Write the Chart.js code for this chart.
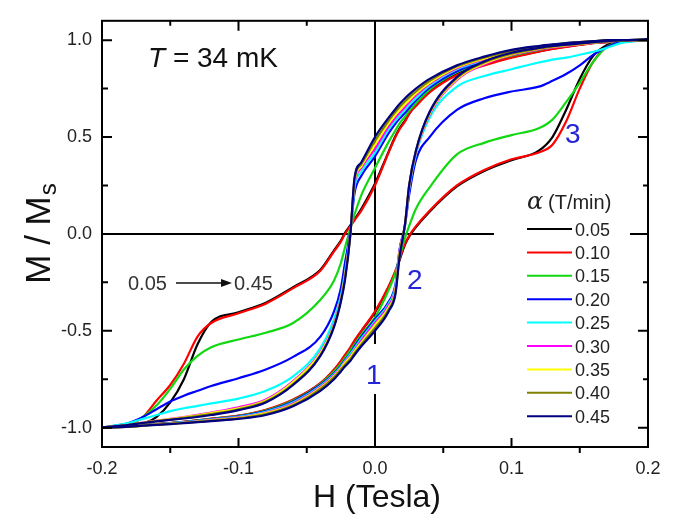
<!DOCTYPE html>
<html>
<head>
<meta charset="utf-8">
<script src="https://cdn.jsdelivr.net/npm/chart.js@4.4.1/dist/chart.umd.min.js"></script>
<style>
  body { margin: 0; background: #fff; }
  canvas { display: block; }
</style>
</head>
<body>
<canvas id="loopChart" width="679" height="516"></canvas>
<script>
// field grid (Tesla), shared by every branch
const fieldH = [-0.2, -0.18, -0.17, -0.16, -0.15, -0.14, -0.13, -0.12, -0.1, -0.08, -0.06, -0.04, -0.03, -0.025, -0.022, -0.018, -0.015, -0.01,
  0, 0.01, 0.015, 0.018, 0.022, 0.025, 0.03, 0.04, 0.06, 0.08, 0.1, 0.12, 0.13, 0.14, 0.15, 0.16, 0.17, 0.18, 0.2];

// sweep rates alpha (T/min)
const rates = ['0.05', '0.10', '0.15', '0.20', '0.25', '0.30', '0.35', '0.40', '0.45'];

// M/Ms while sweeping down (upper branch)
const down005 = [-1.0, -0.995, -0.98, -0.945, -0.87, -0.75, -0.57, -0.455, -0.405, -0.355, -0.275, -0.185, -0.085, -0.035, 0.005, 0.045, 0.075, 0.13,
  0.26, 0.425, 0.505, 0.545, 0.585, 0.62, 0.665, 0.735, 0.825, 0.875, 0.912, 0.942, 0.956, 0.967, 0.977, 0.986, 0.99, 0.995, 1.0];
const down010 = [-1.0, -0.985, -0.945, -0.86, -0.78, -0.67, -0.53, -0.46, -0.41, -0.36, -0.28, -0.19, -0.09, -0.04, 0.0, 0.04, 0.07, 0.12,
  0.25, 0.42, 0.50, 0.54, 0.58, 0.62, 0.66, 0.73, 0.82, 0.87, 0.91, 0.94, 0.955, 0.965, 0.975, 0.985, 0.99, 0.995, 1.0];
const down015 = [-1.0, -0.98, -0.945, -0.885, -0.80, -0.70, -0.63, -0.585, -0.545, -0.51, -0.46, -0.34, -0.24, -0.15, -0.07, 0.03, 0.10, 0.20,
  0.34, 0.475, 0.535, 0.57, 0.605, 0.635, 0.675, 0.745, 0.835, 0.885, 0.92, 0.95, 0.962, 0.972, 0.98, 0.987, 0.992, 0.996, 1.0];
const down020 = [-1.0, -0.975, -0.945, -0.905, -0.865, -0.835, -0.81, -0.785, -0.745, -0.70, -0.635, -0.53, -0.40, -0.28, -0.15, 0.02, 0.21, 0.30,
  0.40, 0.52, 0.57, 0.595, 0.625, 0.65, 0.69, 0.755, 0.84, 0.89, 0.925, 0.953, 0.965, 0.975, 0.982, 0.988, 0.993, 0.997, 1.0];
const down025 = [-1.0, -0.975, -0.955, -0.935, -0.915, -0.90, -0.888, -0.875, -0.85, -0.81, -0.735, -0.59, -0.44, -0.32, -0.2, 0.01, 0.24, 0.32,
  0.42, 0.54, 0.585, 0.61, 0.64, 0.665, 0.70, 0.765, 0.85, 0.895, 0.93, 0.958, 0.968, 0.977, 0.985, 0.99, 0.995, 0.998, 1.0];
const down030 = [-1.0, -0.985, -0.974, -0.964, -0.955, -0.945, -0.934, -0.922, -0.895, -0.855, -0.76, -0.61, -0.465, -0.335, -0.22, 0.01, 0.26, 0.34,
  0.44, 0.555, 0.60, 0.625, 0.655, 0.68, 0.715, 0.775, 0.855, 0.90, 0.935, 0.962, 0.972, 0.98, 0.987, 0.993, 0.997, 1.0, 1.0];
const down035 = [-1.0, -0.985, -0.975, -0.965, -0.956, -0.947, -0.937, -0.925, -0.90, -0.86, -0.765, -0.615, -0.47, -0.34, -0.22, 0.0, 0.27, 0.35,
  0.46, 0.57, 0.615, 0.64, 0.67, 0.69, 0.725, 0.78, 0.86, 0.905, 0.94, 0.965, 0.975, 0.983, 0.99, 0.994, 0.998, 1.0, 1.0];
const down040 = [-1.0, -0.985, -0.975, -0.966, -0.958, -0.95, -0.94, -0.93, -0.905, -0.865, -0.775, -0.625, -0.475, -0.345, -0.23, 0.0, 0.28, 0.36,
  0.48, 0.585, 0.63, 0.655, 0.685, 0.705, 0.735, 0.79, 0.865, 0.91, 0.945, 0.968, 0.976, 0.984, 0.99, 0.995, 1.0, 1.0, 1.005];
const down045 = [-1.0, -0.985, -0.976, -0.968, -0.96, -0.953, -0.945, -0.935, -0.91, -0.87, -0.78, -0.63, -0.48, -0.35, -0.24, 0.0, 0.29, 0.37,
  0.50, 0.60, 0.645, 0.67, 0.70, 0.72, 0.75, 0.80, 0.87, 0.915, 0.95, 0.97, 0.978, 0.985, 0.99, 0.995, 1.0, 1.0, 1.005];

// M/Ms while sweeping up (lower branch)
const up005 = [-1.0, -0.992, -0.987, -0.982, -0.976, -0.97, -0.963, -0.955, -0.939, -0.91, -0.857, -0.772, -0.702, -0.658, -0.628, -0.588, -0.553, -0.502,
  -0.405, -0.275, -0.195, -0.135, -0.055, -0.015, 0.035, 0.115, 0.245, 0.325, 0.38, 0.43, 0.50, 0.64, 0.80, 0.92, 0.975, 0.995, 1.0];
const up010 = [-1.0, -0.992, -0.987, -0.982, -0.976, -0.97, -0.962, -0.954, -0.938, -0.908, -0.855, -0.77, -0.70, -0.655, -0.625, -0.585, -0.55, -0.50,
  -0.40, -0.27, -0.19, -0.13, -0.05, -0.01, 0.04, 0.12, 0.25, 0.33, 0.385, 0.42, 0.46, 0.58, 0.75, 0.89, 0.965, 0.99, 1.0];
const up015 = [-1.0, -0.993, -0.988, -0.983, -0.977, -0.971, -0.964, -0.956, -0.94, -0.912, -0.86, -0.775, -0.71, -0.67, -0.64, -0.60, -0.57, -0.52,
  -0.43, -0.29, -0.20, -0.12, -0.02, 0.04, 0.13, 0.24, 0.41, 0.47, 0.51, 0.545, 0.59, 0.68, 0.78, 0.89, 0.965, 0.99, 1.0];
const up020 = [-1.0, -0.993, -0.988, -0.983, -0.978, -0.972, -0.965, -0.957, -0.942, -0.915, -0.865, -0.78, -0.72, -0.68, -0.65, -0.615, -0.58, -0.53,
  -0.44, -0.35, -0.26, -0.08, 0.045, 0.20, 0.38, 0.50, 0.64, 0.70, 0.735, 0.76, 0.79, 0.825, 0.87, 0.925, 0.965, 0.99, 1.0];
const up025 = [-1.0, -0.994, -0.989, -0.984, -0.978, -0.972, -0.966, -0.958, -0.944, -0.918, -0.87, -0.785, -0.725, -0.685, -0.655, -0.62, -0.59, -0.54,
  -0.45, -0.36, -0.27, -0.09, 0.045, 0.23, 0.41, 0.60, 0.76, 0.815, 0.85, 0.885, 0.90, 0.91, 0.925, 0.94, 0.96, 0.985, 1.0];
const up030 = [-1.0, -0.994, -0.989, -0.984, -0.979, -0.974, -0.968, -0.96, -0.947, -0.922, -0.875, -0.79, -0.73, -0.69, -0.66, -0.63, -0.60, -0.55,
  -0.46, -0.37, -0.28, -0.09, 0.05, 0.24, 0.42, 0.615, 0.795, 0.875, 0.924, 0.952, 0.962, 0.971, 0.979, 0.986, 0.992, 0.997, 1.0];
const up035 = [-1.0, -0.995, -0.99, -0.985, -0.98, -0.975, -0.969, -0.962, -0.95, -0.925, -0.88, -0.795, -0.735, -0.695, -0.665, -0.635, -0.605, -0.56,
  -0.47, -0.38, -0.29, -0.10, 0.05, 0.245, 0.425, 0.62, 0.80, 0.88, 0.927, 0.955, 0.965, 0.973, 0.98, 0.987, 0.993, 0.998, 1.0];
const up040 = [-1.0, -0.995, -0.99, -0.985, -0.98, -0.975, -0.97, -0.964, -0.952, -0.93, -0.885, -0.80, -0.74, -0.70, -0.675, -0.645, -0.615, -0.57,
  -0.485, -0.39, -0.30, -0.11, 0.05, 0.25, 0.43, 0.625, 0.805, 0.885, 0.93, 0.957, 0.967, 0.975, 0.982, 0.988, 0.994, 0.998, 1.0];
const up045 = [-1.0, -0.995, -0.99, -0.986, -0.982, -0.977, -0.972, -0.966, -0.955, -0.935, -0.89, -0.81, -0.75, -0.71, -0.685, -0.655, -0.625, -0.58,
  -0.50, -0.40, -0.31, -0.12, 0.05, 0.25, 0.43, 0.63, 0.81, 0.89, 0.935, 0.96, 0.97, 0.977, 0.983, 0.99, 0.995, 1.0, 1.0];

const downBranches = [down005, down010, down015, down020, down025, down030, down035, down040, down045];
const upBranches = [up005, up010, up015, up020, up025, up030, up035, up040, up045];

// axis tick values
const xTicks = [-0.2, -0.1, 0.0, 0.1, 0.2];
const xMinor = [-0.15, -0.05, 0.05, 0.15];
const yTicks = [-1.0, -0.5, 0.0, 0.5, 1.0];
const yMinor = [-0.75, -0.25, 0.25, 0.75];

const rateColors = ['#000000', '#ff0000', '#11d811', '#0000ff', '#00ffff', '#ff00ff', '#ffff00', '#808000', '#000080'];

const datasets = [];
rates.forEach(function(r, i) {
  [downBranches[i], upBranches[i]].forEach(function(branch) {
    datasets.push({
      label: r,
      data: fieldH.map(function(h, k) { return { x: h, y: branch[k] }; }),
      borderColor: rateColors[i],
      borderWidth: 2.2,
      pointRadius: 0,
      fill: false,
      cubicInterpolationMode: 'monotone',
      order: rates.length - 1 - i
    });
  });
});

const FONT = '"Liberation Sans", Arial, sans-serif';

const overlay = {
  id: 'overlay',
  beforeDatasetsDraw(chart) {
    const ctx = chart.ctx, a = chart.chartArea;
    const xs = chart.scales.x, ys = chart.scales.y;
    ctx.save();
    ctx.strokeStyle = '#000';
    ctx.lineWidth = 2;
    ctx.beginPath();
    const x0 = Math.round(xs.getPixelForValue(0));
    const y0 = Math.round(ys.getPixelForValue(0));
    ctx.moveTo(x0, a.top); ctx.lineTo(x0, a.bottom);
    ctx.moveTo(a.left, y0); ctx.lineTo(a.right, y0);
    ctx.stroke();
    ctx.restore();
  },
  afterDatasetsDraw(chart) {
    const ctx = chart.ctx, a = chart.chartArea;
    const xs = chart.scales.x, ys = chart.scales.y;
    ctx.save();

    // frame
    ctx.strokeStyle = '#000';
    ctx.lineWidth = 2;
    ctx.strokeRect(a.left, a.top, a.right - a.left, a.bottom - a.top);

    // ticks
    ctx.beginPath();
    xTicks.forEach(function(v) {
      const p = xs.getPixelForValue(v);
      ctx.moveTo(p, a.top); ctx.lineTo(p, a.top + 10);
      ctx.moveTo(p, a.bottom); ctx.lineTo(p, a.bottom - 9);
    });
    xMinor.forEach(function(v) {
      const p = xs.getPixelForValue(v);
      ctx.moveTo(p, a.top); ctx.lineTo(p, a.top + 5);
      ctx.moveTo(p, a.bottom); ctx.lineTo(p, a.bottom + 6);
    });
    yTicks.forEach(function(v) {
      const p = ys.getPixelForValue(v);
      ctx.moveTo(a.left, p); ctx.lineTo(a.left + 10, p);
      ctx.moveTo(a.right, p); ctx.lineTo(a.right - 10, p);
    });
    yMinor.forEach(function(v) {
      const p = ys.getPixelForValue(v);
      ctx.moveTo(a.left, p); ctx.lineTo(a.left + 6, p);
      ctx.moveTo(a.right, p); ctx.lineTo(a.right - 5, p);
    });
    ctx.stroke();

    // legend box
    ctx.fillStyle = '#fff';
    ctx.fillRect(494, 186, 136, 242);
    ctx.fillStyle = '#222';
    ctx.textBaseline = 'alphabetic';
    ctx.font = 'italic 24px "DejaVu Serif", serif';
    ctx.fillText('\u03b1', 527, 209);
    ctx.font = '20px ' + FONT;
    ctx.fillText('(T/min)', 548, 209);
    ctx.font = '18px ' + FONT;
    rates.forEach(function(r, i) {
      const y = 229 + i * 23.4;
      ctx.strokeStyle = rateColors[i];
      ctx.lineWidth = 2;
      ctx.beginPath();
      ctx.moveTo(527, y); ctx.lineTo(572, y);
      ctx.stroke();
      ctx.fillStyle = '#222';
      ctx.fillText(r, 575, y + 6.5);
    });

    // temperature label
    ctx.fillStyle = '#111';
    ctx.font = 'italic 28px ' + FONT;
    ctx.fillText('T', 148, 67);
    const tw = ctx.measureText('T').width;
    ctx.font = '28px ' + FONT;
    ctx.fillText(' = 34 mK', 148 + tw, 67);

    // rate arrow annotation
    ctx.fillStyle = '#333';
    ctx.font = '20px ' + FONT;
    ctx.fillText('0.05', 128, 290);
    ctx.fillText('0.45', 234, 290);
    ctx.strokeStyle = '#111';
    ctx.lineWidth = 1.3;
    ctx.beginPath();
    ctx.moveTo(176, 283); ctx.lineTo(224, 283);
    ctx.stroke();
    ctx.fillStyle = '#111';
    ctx.beginPath();
    ctx.moveTo(232, 283); ctx.lineTo(221, 279); ctx.lineTo(221, 287); ctx.closePath();
    ctx.fill();

    // step labels
    ctx.fillStyle = '#fff';
    ctx.fillRect(365, 344, 20, 50);
    ctx.fillStyle = '#2525d8';
    ctx.font = '28px ' + FONT;
    ctx.fillText('1', 366, 384);
    ctx.fillText('2', 407, 289);
    ctx.fillText('3', 565, 143);

    // axis titles
    ctx.fillStyle = '#111';
    ctx.font = '32px ' + FONT;
    ctx.textAlign = 'center';
    ctx.fillText('H (Tesla)', (a.left + a.right) / 2 + 2, 507);

    ctx.translate(50, 234);
    ctx.rotate(-Math.PI / 2);
    ctx.textAlign = 'left';
    ctx.font = '35px ' + FONT;
    const mw = ctx.measureText('M / M').width;
    ctx.font = '24px ' + FONT;
    const sw = ctx.measureText('s').width;
    const sx = -(mw + sw) / 2;
    ctx.font = '35px ' + FONT;
    ctx.fillText('M / M', sx, 0);
    ctx.font = '24px ' + FONT;
    ctx.fillText('s', sx + mw + 1, 6);
    ctx.restore();
  }
};

new Chart(document.getElementById('loopChart').getContext('2d'), {
  type: 'line',
  data: { datasets: datasets },
  options: {
    responsive: false,
    animation: false,
    layout: { padding: { left: 0, right: 31, top: 10, bottom: 0 } },
    plugins: { legend: { display: false }, tooltip: { enabled: false } },
    scales: {
      x: {
        type: 'linear',
        min: -0.2,
        max: 0.2,
        afterBuildTicks: function(s) { s.ticks = xTicks.map(function(v) { return { value: v }; }); },
        afterFit: function(s) { s.height = 69; },
        grid: { display: false, drawTicks: false },
        border: { display: false },
        ticks: {
          padding: 11,
          color: '#222',
          font: { family: FONT, size: 18 },
          maxRotation: 0,
          callback: function(v) { return v.toFixed(1); }
        }
      },
      y: {
        type: 'linear',
        min: -1.1,
        max: 1.1,
        afterBuildTicks: function(s) { s.ticks = yTicks.map(function(v) { return { value: v }; }); },
        afterFit: function(s) { s.width = 102; },
        grid: { display: false, drawTicks: false },
        border: { display: false },
        ticks: {
          padding: 10,
          color: '#222',
          font: { family: FONT, size: 18 },
          callback: function(v) { return v.toFixed(1); }
        }
      }
    }
  },
  plugins: [overlay]
});
</script>
</body>
</html>
